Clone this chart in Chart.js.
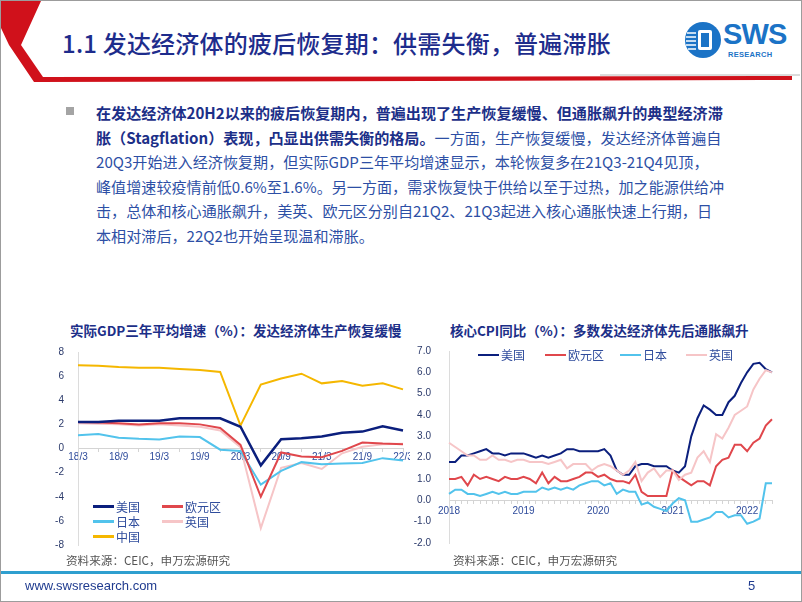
<!DOCTYPE html>
<html>
<head>
<meta charset="utf-8">
<script src="https://cdn.jsdelivr.net/npm/chart.js@4.4.1/dist/chart.umd.min.js"></script>
<style>
  body { margin:0; width:802px; height:602px; overflow:hidden; background:#fff; font-family:"Noto Sans CJK SC", sans-serif; position:relative; }
  .abs { position:absolute; }
  #frame { left:0; top:0; width:800px; height:600px; border:1px solid #9c9c9c; pointer-events:none; }
  #title { left:62px; top:25px; font-size:24px; color:#1d2c8c; font-weight:500; white-space:nowrap; letter-spacing:0.2px; }
  #body { left:96px; top:100px; font-size:15.1px; line-height:24.6px; color:#2d4fa5; white-space:nowrap; }
  #body b { color:#1c2f88; font-weight:700; }
  #bullet { left:66px; top:107px; width:8px; height:8px; background:#a4a4a4; }
  .ctitle { font-size:13.5px; font-weight:700; color:#1c2f88; white-space:nowrap; }
  .src { font-size:11.6px; color:#555; white-space:nowrap; }
  .leg { font-size:12px; color:#2f4c9c; white-space:nowrap; display:flex; align-items:center; }
  .leg i { display:inline-block; width:21px; height:3px; margin-right:2px; }
  #footline { left:0; top:571px; width:802px; height:3px; background:#2f9fcf; }
  #url { left:25px; top:578px; font-family:"Liberation Sans", Arial, sans-serif; font-size:13px; color:#1f3b8f; }
  #page { left:748px; top:578px; font-family:"Liberation Sans", Arial, sans-serif; font-size:13px; color:#1f3b8f; }
  #logoText { left:723px; top:18px; font-family:"Liberation Sans", Arial, sans-serif; font-weight:700; font-size:29px; color:#1b73c6; letter-spacing:-0.8px; }
  #logoSub { left:728px; top:50px; font-family:"Liberation Sans", Arial, sans-serif; font-weight:700; font-size:7.5px; color:#1b73c6; letter-spacing:0.3px; }
</style>
</head>
<body>
<script>
// left chart: real GDP 3-year average growth (%)
const quarterLabels = ['18/3','18/6','18/9','18/12','19/3','19/6','19/9','19/12','20/3','20/6','20/9','20/12','21/3','21/6','21/9','21/12','22/3'];
const gdpUS    = [2.2, 2.2, 2.3, 2.3, 2.3, 2.5, 2.5, 2.5, 1.8, -1.4, 0.77, 0.85, 1.0, 1.3, 1.4, 1.85, 1.5];
const gdpEuro  = [2.2, 2.15, 2.1, 2.0, 2.1, 2.1, 2.0, 1.7, 0.3, -4.0, -0.33, -0.66, -0.72, -0.2, 0.5, 0.41, 0.36];
const gdpJapan = [1.1, 1.2, 0.9, 0.8, 0.75, 1.0, 0.95, -0.1, -0.2, -3.0, -1.85, -1.13, -1.3, -1.24, -1.2, -0.8, -1.0];
const gdpUK    = [2.1, 2.05, 2.0, 1.9, 2.0, 1.9, 1.8, 1.5, 0.1, -6.6, -1.6, -1.2, -1.7, -0.4, 0.15, 0.35, 0.4];
const gdpChina = [6.9, 6.85, 6.75, 6.7, 6.7, 6.6, 6.5, 6.35, 1.9, 5.3, 5.8, 6.2, 5.4, 5.6, 5.2, 5.4, 4.9];
const gdpTicks = [-8, -6, -4, -2, 0, 2, 4, 6, 8];

// right chart: core CPI yoy (%), monthly 2018-01 .. 2022-05
const months = [];
for (let y = 2018; y <= 2022; y++) for (let m = 1; m <= 12; m++) if (y < 2022 || m <= 5) months.push(y + '-' + m);
const cpiUS    = [1.8,1.8,2.1,2.1,2.2,2.3,2.4,2.2,2.2,2.1,2.2,2.2, 2.2,2.1,2.0,2.1,2.0,2.1,2.2,2.4,2.4,2.3,2.3,2.3, 2.3,2.4,2.1,1.4,1.2,1.2,1.6,1.7,1.7,1.6,1.6,1.6, 1.4,1.3,1.6,3.0,3.85,4.45,4.25,4.0,4.0,4.6,4.9,5.5, 6.0,6.4,6.45,6.15,6.0];
const cpiEuro  = [1.0,1.0,1.1,0.7,1.2,1.0,1.1,1.0,0.9,1.1,1.0,1.0, 1.1,1.0,0.8,1.3,0.8,1.1,0.9,0.9,1.0,1.1,1.3,1.3, 1.1,1.2,1.0,0.9,0.9,0.8,1.2,0.4,0.2,0.2,0.2,0.2, 1.4,1.1,0.9,0.7,0.9,0.9,0.7,1.6,1.9,2.0,2.6,2.6, 2.3,2.7,2.9,3.5,3.8];
const cpiJapan = [0.3,0.5,0.5,0.3,0.3,0.2,0.3,0.4,0.3,0.4,0.3,0.3, 0.4,0.4,0.4,0.6,0.5,0.6,0.5,0.6,0.5,0.7,0.8,0.9, 0.9,0.7,0.8,0.3,0.5,0.4,0.4,-0.2,-0.1,-0.3,-0.4,-0.5, -0.15,0.1,0.0,-1.0,-1.0,-0.9,-0.8,-0.55,-0.55,-0.8,-0.7,-0.7, -1.1,-1.0,-0.85,0.8,0.8];
const cpiUK    = [2.7,2.5,2.3,2.1,2.1,1.9,1.9,2.1,1.9,1.9,1.8,1.9, 1.9,1.8,1.8,1.8,1.7,1.8,1.9,1.5,1.7,1.7,1.7,1.4, 1.6,1.7,1.6,1.4,1.2,1.4,1.8,0.9,1.3,1.5,1.1,1.4, 1.4,0.95,1.2,1.3,2.0,2.3,1.8,3.1,2.9,3.4,4.0,4.2, 4.4,5.2,5.7,6.1,6.0];
const cpiTicks = [-2, -1, 0, 1, 2, 3, 4, 5, 6, 7];

const colUS = '#0b1f7d', colEuro = '#e0474c', colJapan = '#52c3ec', colUK = '#f6c5c7', colChina = '#f5b700';
</script>

<svg class="abs" style="left:0;top:0" width="802" height="90">
  <polygon points="1,1 41,1 21,45 43,77 792,76 792,80 34,82 9,45 1,28" fill="#d0111b"/>
  <line x1="600" y1="75" x2="800" y2="75" stroke="#b8b8b8" stroke-width="1"/>
  <circle cx="703" cy="40" r="18" fill="#1b73c6"/>
  <rect x="698" y="30" width="14" height="20" rx="2" fill="#fff"/>
  <rect x="701" y="33" width="8" height="14" fill="#1b73c6"/>
  <line x1="687" y1="33" x2="696" y2="33" stroke="#fff" stroke-width="1.5"/>
  <line x1="686" y1="37" x2="696" y2="37" stroke="#fff" stroke-width="1.5"/>
  <line x1="686" y1="41" x2="696" y2="41" stroke="#fff" stroke-width="1.5"/>
  <line x1="686" y1="45" x2="696" y2="45" stroke="#fff" stroke-width="1.5"/>
  <line x1="688" y1="49" x2="696" y2="49" stroke="#fff" stroke-width="1.5"/>
</svg>
<div id="logoText" class="abs">SWS</div>
<div id="logoSub" class="abs">RESEARCH</div>
<div id="title" class="abs">1.1 发达经济体的疲后恢复期：供需失衡，普遍滞胀</div>

<div id="bullet" class="abs"></div>
<div id="body" class="abs">
<b>在发达经济体20H2以来的疲后恢复期内，普遍出现了生产恢复缓慢、但通胀飙升的典型经济滞</b><br>
<b>胀（Stagflation）表现，凸显出供需失衡的格局。</b>一方面，生产恢复缓慢，发达经济体普遍自<br>
20Q3开始进入经济恢复期，但实际GDP三年平均增速显示，本轮恢复多在21Q3-21Q4见顶，<br>
峰值增速较疫情前低0.6%至1.6%。另一方面，需求恢复快于供给以至于过热，加之能源供给冲<br>
击，总体和核心通胀飙升，美英、欧元区分别自21Q2、21Q3起进入核心通胀快速上行期，日<br>
本相对滞后，22Q2也开始呈现温和滞胀。
</div>

<div class="abs ctitle" style="left:70px;top:320px">实际GDP三年平均增速（%）：发达经济体生产恢复缓慢</div>
<div class="abs ctitle" style="left:450px;top:320px">核心CPI同比（%）：多数发达经济体先后通胀飙升</div>

<canvas id="gdpChart" class="abs" style="left:55px;top:340px" width="355" height="217"></canvas>
<canvas id="cpiChart" class="abs" style="left:410px;top:335px" width="380" height="224"></canvas>

<div class="abs leg" style="left:93px;top:498px"><i style="background:#0b1f7d"></i>美国</div>
<div class="abs leg" style="left:162px;top:498px"><i style="background:#e0474c"></i>欧元区</div>
<div class="abs leg" style="left:93px;top:513px"><i style="background:#52c3ec"></i>日本</div>
<div class="abs leg" style="left:162px;top:513px"><i style="background:#f6c5c7"></i>英国</div>
<div class="abs leg" style="left:93px;top:528px"><i style="background:#f5b700"></i>中国</div>

<div class="abs leg" style="left:478px;top:346px"><i style="background:#0b1f7d;height:2px"></i>美国</div>
<div class="abs leg" style="left:545px;top:346px"><i style="background:#e0474c;height:2px"></i>欧元区</div>
<div class="abs leg" style="left:620px;top:346px"><i style="background:#52c3ec;height:2px"></i>日本</div>
<div class="abs leg" style="left:686px;top:346px"><i style="background:#f6c5c7;height:2px"></i>英国</div>

<div class="abs src" style="left:66px;top:552px">资料来源：CEIC，申万宏源研究</div>
<div class="abs src" style="left:453px;top:552px">资料来源：CEIC，申万宏源研究</div>

<div id="footline" class="abs"></div>
<div id="url" class="abs">www.swsresearch.com</div>
<div id="page" class="abs">5</div>
<div id="frame" class="abs"></div>

<script>
Chart.defaults.font.family = '"Liberation Sans", Arial, "Noto Sans CJK SC", sans-serif';

function lineSet(label, data, color, width) {
  return { label: label, data: data, borderColor: color, backgroundColor: color, borderWidth: width, pointRadius: 0, tension: 0, fill: false };
}

new Chart(document.getElementById('gdpChart'), {
  type: 'line',
  data: {
    labels: quarterLabels,
    datasets: [
      lineSet('美国', gdpUS, colUS, 2.5),
      lineSet('中国', gdpChina, colChina, 2),
      lineSet('欧元区', gdpEuro, colEuro, 2),
      lineSet('日本', gdpJapan, colJapan, 2),
      lineSet('英国', gdpUK, colUK, 2)
    ]
  },
  options: {
    responsive: false,
    animation: false,
    layout: { padding: { top: 0, right: 7, bottom: 0, left: 0 } },
    plugins: { legend: { display: false }, tooltip: { enabled: false } },
    scales: {
      x: {
        position: { y: 0 },
        offset: false,
        afterFit: s => { s.paddingRight = 0; },
        grid: { drawOnChartArea: false, color: '#d4d4d4', tickLength: 3 },
        border: { color: '#d4d4d4' },
        ticks: {
          autoSkip: false, maxRotation: 0, padding: 0,
          color: '#2f4c9c', font: { size: 10 },
          callback: (v, i) => (i % 2 === 0 ? quarterLabels[i] : '')
        }
      },
      y: {
        min: gdpTicks[0], max: gdpTicks[gdpTicks.length - 1],
        afterBuildTicks: s => { s.ticks = gdpTicks.map(v => ({ value: v })); },
        afterFit: s => { s.width = 23; },
        grid: { display: false },
        border: { color: '#dcdcdc' },
        ticks: { color: '#2b3a6b', font: { size: 10 }, padding: 6 }
      }
    }
  }
});

new Chart(document.getElementById('cpiChart'), {
  type: 'line',
  data: {
    labels: months,
    datasets: [
      lineSet('英国', cpiUK, colUK, 2),
      lineSet('日本', cpiJapan, colJapan, 2),
      lineSet('欧元区', cpiEuro, colEuro, 2),
      lineSet('美国', cpiUS, colUS, 2)
    ]
  },
  options: {
    responsive: false,
    animation: false,
    layout: { padding: { top: 0, right: 18, bottom: 0, left: 0 } },
    plugins: { legend: { display: false }, tooltip: { enabled: false } },
    scales: {
      x: {
        position: { y: 0 },
        offset: false,
        grid: { drawOnChartArea: false, color: '#d4d4d4', tickLength: 3 },
        border: { color: '#d4d4d4' },
        ticks: {
          autoSkip: false, maxRotation: 0, padding: 2,
          color: '#2f4c9c', font: { size: 10 },
          callback: (v, i) => (months[i].endsWith('-1') ? months[i].slice(0, 4) : '')
        }
      },
      y: {
        min: cpiTicks[0], max: cpiTicks[cpiTicks.length - 1],
        afterBuildTicks: s => { s.ticks = cpiTicks.map(v => ({ value: v })); },
        afterFit: s => { s.width = 39; },
        grid: { display: false },
        border: { color: '#dcdcdc' },
        ticks: { color: '#2b3a6b', font: { size: 10 }, padding: 10, callback: v => v.toFixed(1) }
      }
    }
  }
});
</script>
</body>
</html>
